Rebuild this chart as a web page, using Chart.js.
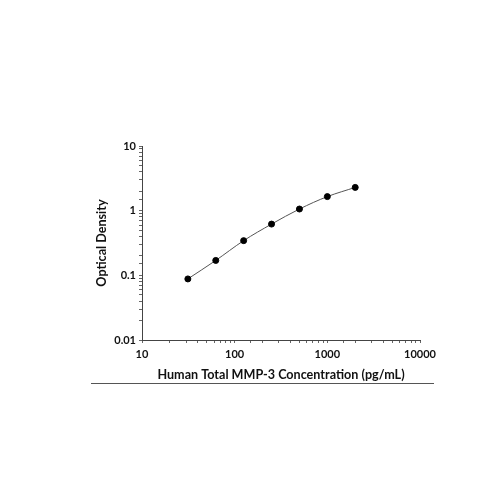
<!DOCTYPE html>
<html>
<head>
<meta charset="utf-8">
<script src="https://cdn.jsdelivr.net/npm/chart.js@4/dist/chart.umd.min.js"></script>
<style>
  html, body { margin: 0; padding: 0; background: #fff; }
  #wrap { width: 500px; height: 500px; position: relative; }
</style>
</head>
<body>
<div id="wrap"><canvas id="stdCurve"></canvas></div>
<script>
// Standard curve values
const concentrations = [31.25, 62.5, 125, 250, 500, 1000, 2000];
const opticalDensity = [0.088, 0.17, 0.344, 0.62, 1.06, 1.65, 2.29];
const xDecades = [10, 100, 1000, 10000];
const yDecades = [0.01, 0.1, 1, 10];

const FONT = 'Lato, "Open Sans", sans-serif';

// underline below the x axis title
const underline = {
    id: 'underline',
    afterDraw(chart) {
        const c = chart.ctx;
        c.save();
        c.strokeStyle = '#555';
        c.lineWidth = 1.2;
        c.beginPath();
        c.moveTo(91, 383.5);
        c.lineTo(434, 383.5);
        c.stroke();
        c.restore();
    }
};

function decadeLabel(list) {
    return function (value) {
        return list.some(d => Math.abs(d - value) / d < 1e-6) ? String(value) : '';
    };
}

new Chart(document.getElementById('stdCurve'), {
    type: 'line',
    data: {
        datasets: [{
            data: concentrations.map((c, i) => ({ x: c, y: opticalDensity[i] })),
            borderColor: '#555',
            borderWidth: 1,
            cubicInterpolationMode: 'monotone',
            pointBackgroundColor: '#000',
            pointBorderColor: '#000',
            pointRadius: 3,
            fill: false
        }]
    },
    options: {
        responsive: true,
        maintainAspectRatio: false,
        animation: false,
        layout: { padding: { left: 94, right: 80, top: 146, bottom: 118 } },
        plugins: {
            legend: { display: false },
            tooltip: { enabled: false }
        },
        scales: {
            x: {
                type: 'logarithmic',
                min: 10,
                max: 10000,
                afterFit: s => { s.height = 42; },
                border: { color: '#444', width: 1 },
                grid: { drawOnChartArea: false, drawTicks: true, tickLength: 3, color: '#666' },
                ticks: {
                    autoSkip: false,
                    maxRotation: 0,
                    padding: 5,
                    color: '#111',
                    font: { family: FONT, size: 11, weight: 'bold' },
                    callback: decadeLabel(xDecades)
                },
                title: {
                    display: true,
                    text: 'Human Total MMP-3 Concentration (pg/mL)',
                    color: '#111',
                    font: { family: FONT, size: 12.6, weight: 'bold' },
                    padding: { top: 0, bottom: 0 }
                }
            },
            y: {
                type: 'logarithmic',
                min: 0.01,
                max: 10,
                afterFit: s => { s.width = 48; },
                border: { color: '#444', width: 1 },
                grid: { drawOnChartArea: false, drawTicks: true, tickLength: 3, color: '#666' },
                ticks: {
                    autoSkip: false,
                    padding: 3,
                    color: '#111',
                    font: { family: FONT, size: 11, weight: 'bold' },
                    callback: decadeLabel(yDecades)
                },
                title: {
                    display: true,
                    text: 'Optical Density',
                    color: '#111',
                    font: { family: FONT, size: 12.6, weight: 'bold' },
                    padding: { top: 0, bottom: 0 }
                }
            }
        }
    },
    plugins: [underline]
});
</script>
</body>
</html>
